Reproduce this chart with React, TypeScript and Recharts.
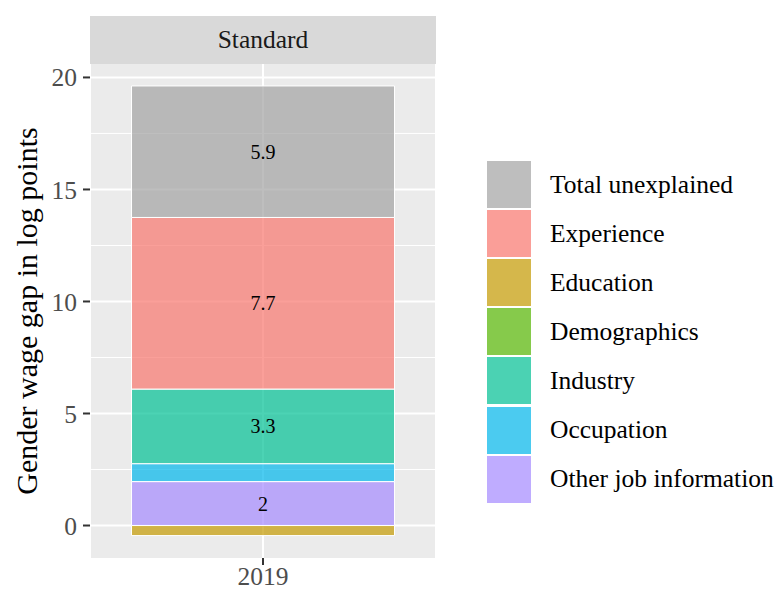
import React from 'react';
import { BarChart, Bar, XAxis, YAxis, CartesianGrid, LabelList } from 'recharts';

const years = ['2019'];
const otherJob = [1.96];
const occupation = [0.8];
const industry = [3.33];
const demographics = [0];
const education = [-0.45];
const experience = [7.66];
const totalUnexplained = [5.87];

const yTicks = [0, 5, 10, 15, 20];
const yMinor = [2.5, 7.5, 12.5, 17.5];

// stacking order bottom -> top; legend order is reversed
const series = [
  { key: 'other', name: 'Other job information', color: '#A58AFF', values: otherJob },
  { key: 'occupation', name: 'Occupation', color: '#00B6EB', values: occupation },
  { key: 'industry', name: 'Industry', color: '#00C094', values: industry },
  { key: 'demographics', name: 'Demographics', color: '#53B400', values: demographics },
  { key: 'education', name: 'Education', color: '#C49A00', values: education },
  { key: 'experience', name: 'Experience', color: '#F8766D', values: experience },
  { key: 'total', name: 'Total unexplained', color: '#A3A3A3', values: totalUnexplained },
];

const data = years.map((year, i) => {
  const row: Record<string, any> = { year };
  series.forEach((s) => {
    row[s.key] = s.values[i];
  });
  return row;
});

const FONT = '"Liberation Serif", "Times New Roman", serif';

const fmt = (v: any) => {
  const n = Number(v);
  if (Math.abs(n) < 1) return '';
  return String(Number(n.toFixed(1)));
};

const App: React.FC = () => {
  return (
    <div style={{ position: 'absolute', left: 0, top: 0, width: 778, height: 590, background: '#fff', fontFamily: FONT }}>
      <div
        style={{
          position: 'absolute',
          left: 90,
          top: 16,
          width: 346,
          height: 48,
          background: '#D9D9D9',
          color: '#1A1A1A',
          fontSize: 25.5,
          lineHeight: '48px',
          textAlign: 'center',
        }}
      >
        Standard
      </div>
      <div
        style={{
          position: 'absolute',
          left: 27,
          top: 311,
          transform: 'translate(-50%, -50%) rotate(-90deg)',
          whiteSpace: 'nowrap',
          fontSize: 30,
          color: '#000',
        }}
      >
        Gender wage gap in log points
      </div>
      <BarChart
        width={778}
        height={590}
        data={data}
        stackOffset="sign"
        margin={{ top: 64, right: 342, left: 0, bottom: 0 }}
        barCategoryGap="12%"
        style={{ position: 'absolute', left: 0, top: 0, fontFamily: FONT }}
      >
        <CartesianGrid
          fill="#EBEBEB"
          stroke="#FFFFFF"
          strokeWidth={2}
          horizontalValues={yTicks}
          vertical={true}
        />
        <CartesianGrid
          fill="none"
          stroke="#FFFFFF"
          strokeWidth={1}
          horizontalValues={yMinor}
          vertical={false}
        />
        <XAxis
          dataKey="year"
          height={32}
          axisLine={false}
          tickLine={{ stroke: '#333333', strokeWidth: 2 }}
          tickSize={7}
          tickMargin={2}
          tick={{ fill: '#4D4D4D', fontSize: 25.5, fontFamily: FONT }}
        />
        <YAxis
          width={90}
          domain={[-1.45, 20.6]}
          ticks={yTicks}
          axisLine={false}
          tickLine={{ stroke: '#333333', strokeWidth: 2 }}
          tickSize={7}
          tickMargin={6}
          tick={{ fill: '#4D4D4D', fontSize: 25.5, fontFamily: FONT }}
          allowDataOverflow
        />
        {series.map((s) => (
          <Bar
            key={s.key}
            dataKey={s.key}
            name={s.name}
            stackId="a"
            fill={s.color}
            fillOpacity={0.7}
            stroke="#FFFFFF"
            strokeWidth={1}
            isAnimationActive={false}
          >
            <LabelList
              dataKey={s.key}
              position="center"
              formatter={fmt}
              style={{ fill: '#000', fontSize: 20, fontFamily: FONT }}
            />
          </Bar>
        ))}
      </BarChart>
      <div style={{ position: 'absolute', left: 486, top: 160 }}>
        {[...series].reverse().map((s) => (
          <div key={s.key} style={{ display: 'flex', alignItems: 'center', height: 49.1 }}>
            <div
              style={{
                width: 44,
                height: 47,
                background: s.color,
                opacity: 0.7,
                border: '1px solid #FFFFFF',
              }}
            />
            <span style={{ marginLeft: 18, fontSize: 25.5, color: '#000', whiteSpace: 'nowrap' }}>{s.name}</span>
          </div>
        ))}
      </div>
    </div>
  );
};

export default App;
